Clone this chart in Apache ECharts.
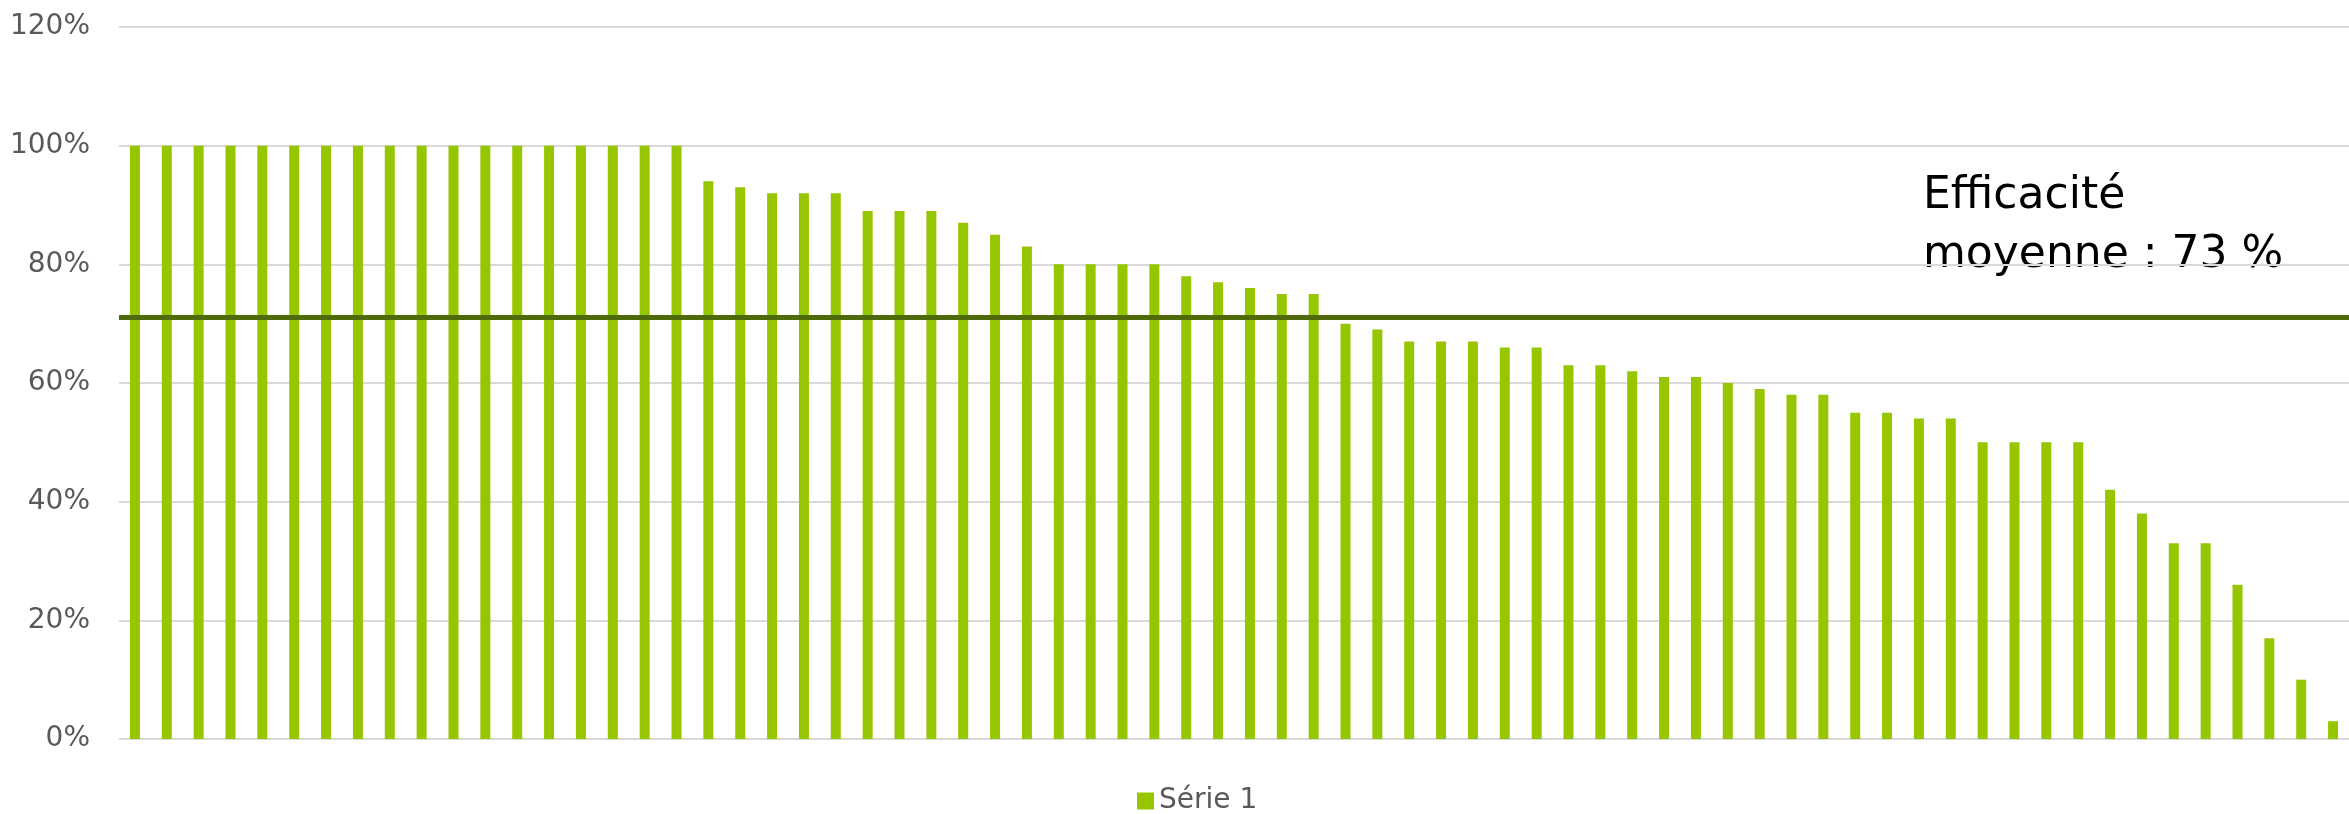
<!DOCTYPE html>
<html>
<head>
<meta charset="utf-8">
<style>
  html, body { margin: 0; padding: 0; background: #fff; }
  #chart { width: 2349px; height: 814px; }
</style>
<script src="https://cdn.jsdelivr.net/npm/echarts@6/dist/echarts.min.js"></script>
</head>
<body>
<div id="chart"></div>
<script>
// efficacite par poste (%), triee decroissante
const seriesName = 'Série 1'
const values = [
  100, 100, 100, 100, 100, 100, 100, 100, 100, 100,
  100, 100, 100, 100, 100, 100, 100, 100, 94, 93,
  92, 92, 92, 89, 89, 89, 87, 85, 83, 80,
  80, 80, 80, 78, 77, 76, 75, 75, 70, 69,
  67, 67, 67, 66, 66, 63, 63, 62, 61, 61,
  60, 59, 58, 58, 55, 55, 54, 54, 50, 50,
  50, 50, 42, 38, 33, 33, 26, 17, 10, 3
]
const categories = values.map((v, i) => String(i + 1))
const avgLineValue = 71
const annotation = 'Efficacité\nmoyenne : 73 %'
const yTicks = { min: 0, max: 120, interval: 20 }

const chart = echarts.init(document.getElementById('chart'))

chart.setOption({
  animation: false,
  textStyle: {
    fontFamily: 'DejaVu Sans'
  },
  grid: {
    left: 119,
    right: 0,
    top: 27,
    bottom: 75,
    containLabel: false
  },
  legend: {
    left: 1132,
    top: 782,
    itemWidth: 17,
    itemHeight: 17,
    itemGap: 8,
    icon: 'rect',
    textStyle: {
      color: '#595959',
      fontSize: 28,
      fontFamily: 'DejaVu Sans'
    },
    data: [seriesName]
  },
  xAxis: {
    type: 'category',
    data: categories,
    axisLine: { show: false },
    axisTick: { show: false },
    axisLabel: { show: false }
  },
  yAxis: {
    type: 'value',
    min: yTicks.min,
    max: yTicks.max,
    interval: yTicks.interval,
    axisLine: { show: false },
    axisTick: { show: false },
    axisLabel: {
      formatter: '{value}%',
      color: '#595959',
      fontSize: 28,
      margin: 29,
      fontFamily: 'DejaVu Sans'
    },
    splitLine: {
      lineStyle: {
        color: '#d9d9d9',
        width: 2
      }
    }
  },
  graphic: [
    {
      type: 'text',
      left: 1923,
      top: 167,
      style: {
        text: annotation,
        fill: '#000',
        fontSize: 44,
        lineHeight: 59,
        fontFamily: 'DejaVu Sans'
      }
    }
  ],
  series: [
    {
      type: 'bar',
      name: seriesName,
      data: values,
      barWidth: 10,
      itemStyle: {
        color: '#96c600'
      },
      markLine: {
        silent: true,
        symbol: 'none',
        label: { show: false },
        lineStyle: {
          color: '#4f6a0a',
          width: 5,
          type: 'solid'
        },
        data: [{ yAxis: avgLineValue }]
      }
    }
  ]
})
</script>
</body>
</html>
